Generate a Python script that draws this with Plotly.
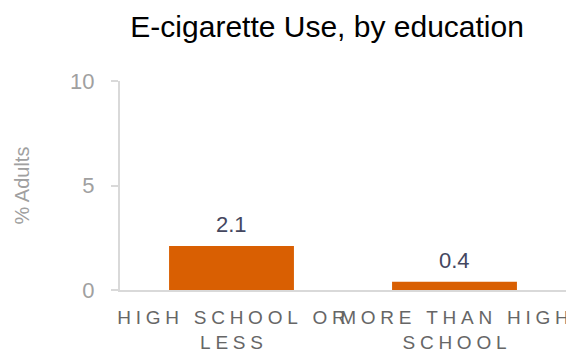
import plotly.graph_objects as go

# Survey results: share of adults using e-cigarettes, by education level
categories = ["HIGH SCHOOL OR<br>LESS", "MORE THAN HIGH<br>SCHOOL"]
values = [2.1, 0.4]
y_ticks = [0, 5, 10]

SP = "\u2005"  # four-per-em space used as letter spacing


def spaced(label):
    lines = label.split("<br>")
    return "<br>".join(SP.join(list(line)) for line in lines)


tick_text = [spaced(c) for c in categories]

fig = go.Figure()
fig.add_trace(go.Bar(
    x=categories,
    y=values,
    marker=dict(color="#D95F02", line=dict(width=0)),
    width=0.56,
    hoverinfo="skip",
))

for cat, val in zip(categories, values):
    fig.add_annotation(
        x=cat, y=val, text=f"{val:.1f}", showarrow=False,
        yanchor="bottom", yshift=7,
        font=dict(family="Liberation Sans, Arial", size=22, color="#44475F"),
    )

fig.update_layout(
    width=566, height=353,
    margin=dict(l=120, r=0, t=81, b=63),
    paper_bgcolor="white", plot_bgcolor="white",
    showlegend=False,
    title=dict(
        text="E-cigarette Use, by education",
        font=dict(family="Liberation Sans, Arial", size=30, color="#000000"),
        x=0.578, xanchor="center", xref="container",
        y=1 - 26 / 353, yanchor="middle", yref="container",
    ),
)

fig.update_xaxes(
    tickmode="array", tickvals=categories, ticktext=tick_text,
    tickangle=0, automargin=False, ticklabelstandoff=9,
    tickfont=dict(family="Liberation Sans, Arial", size=19, color="#666666"),
    showline=True, linecolor="#D9D9D9", linewidth=2,
    ticks="", showgrid=False, zeroline=False,
)

fig.update_yaxes(
    range=[0, 10], tickvals=y_ticks, automargin=False,
    tickfont=dict(family="Liberation Sans, Arial", size=22, color="#A0A0A0"),
    showline=True, linecolor="#D9D9D9", linewidth=2,
    ticks="outside", ticklen=7, tickwidth=2, tickcolor="#D9D9D9",
    ticklabelstandoff=12,
    showgrid=False, zeroline=False,
    title=dict(text="% Adults", standoff=35,
               font=dict(family="Liberation Sans, Arial", size=20, color="#A0A0A0")),
)

fig.write_html("out.html")
